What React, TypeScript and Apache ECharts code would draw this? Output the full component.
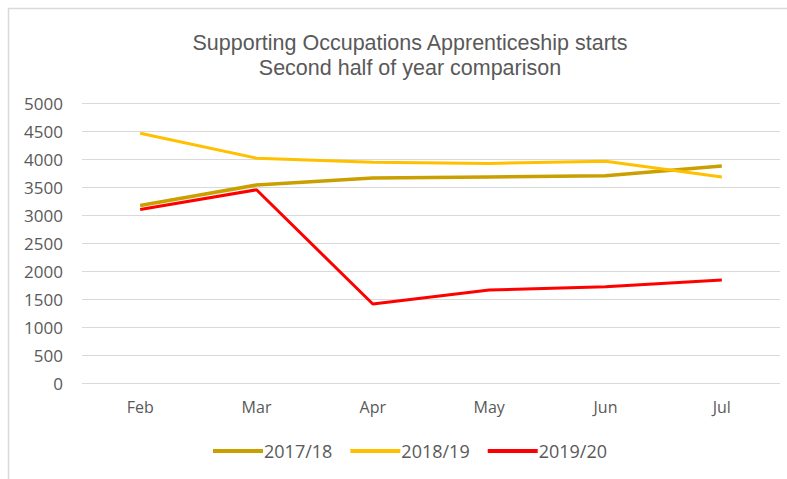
import React, { useEffect, useRef } from "react";
import * as echarts from "echarts";

const months = ["Feb", "Mar", "Apr", "May", "Jun", "Jul"];
const s1718 = [3170, 3535, 3660, 3680, 3700, 3875];
const s1819 = [4460, 4015, 3940, 3920, 3960, 3680];
const s1920 = [3100, 3450, 1410, 1660, 1720, 1840];
const yTicks = { min: 0, max: 5000, interval: 500 };

export default function App() {
  const ref = useRef<HTMLDivElement>(null);
  useEffect(() => {
    const chart = echarts.init(ref.current!, null, { renderer: "svg" });
    const font = "'Open Sans', sans-serif";
    chart.setOption({
      animation: false,
      backgroundColor: "#ffffff",
      textStyle: { fontFamily: font },
      graphic: [
        {
          type: "rect",
          shape: { x: 8.5, y: 8.5, width: 800, height: 500 },
          style: { fill: "none", stroke: "#d9d9d9", lineWidth: 1.5 },
          silent: true,
        },
      ],
      title: {
        text: "Supporting Occupations Apprenticeship starts\nSecond half of year comparison",
        left: 405,
        textAlign: "center",
        top: 25,
        textStyle: {
          fontFamily: "'Liberation Sans Narrow', 'Liberation Sans', sans-serif",
          fontSize: 21.5,
          fontWeight: "normal",
          color: "#595959",
          lineHeight: 25,
        },
      },
      legend: {
        bottom: 14,
        left: 208,
        icon: "rect",
        itemWidth: 50,
        itemHeight: 4,
        itemGap: 18,
        textStyle: { fontSize: 18, color: "#595959", fontFamily: font, padding: [0, 0, 0, -4] },
        data: ["2017/18", "2018/19", "2019/20"],
      },
      grid: { left: 82, right: 7, top: 103, bottom: 96, containLabel: false },
      xAxis: {
        type: "category",
        data: months,
        boundaryGap: true,
        axisLine: { show: false },
        axisTick: { show: false },
        axisLabel: { color: "#595959", fontSize: 16, margin: 16, fontFamily: font },
      },
      yAxis: {
        type: "value",
        min: yTicks.min,
        max: yTicks.max,
        interval: yTicks.interval,
        axisLabel: { color: "#595959", fontSize: 17, margin: 19, fontFamily: font, formatter: (v: number) => String(v) },
        splitLine: { lineStyle: { color: "#d9d9d9", width: 1 } },
        axisLine: { show: false },
        axisTick: { show: false },
      },
      series: [
        { name: "2017/18", type: "line", data: s1718, symbol: "none", lineStyle: { width: 3.5, color: "#C9A000" }, itemStyle: { color: "#C9A000" } },
        { name: "2018/19", type: "line", data: s1819, symbol: "none", lineStyle: { width: 3, color: "#FFC000" }, itemStyle: { color: "#FFC000" } },
        { name: "2019/20", type: "line", data: s1920, symbol: "none", lineStyle: { width: 3, color: "#FF0000" }, itemStyle: { color: "#FF0000" } },
      ],
    });
    return () => chart.dispose();
  }, []);
  return <div ref={ref} style={{ position: "absolute", left: 0, top: 0, width: 787, height: 479 }} />;
}
